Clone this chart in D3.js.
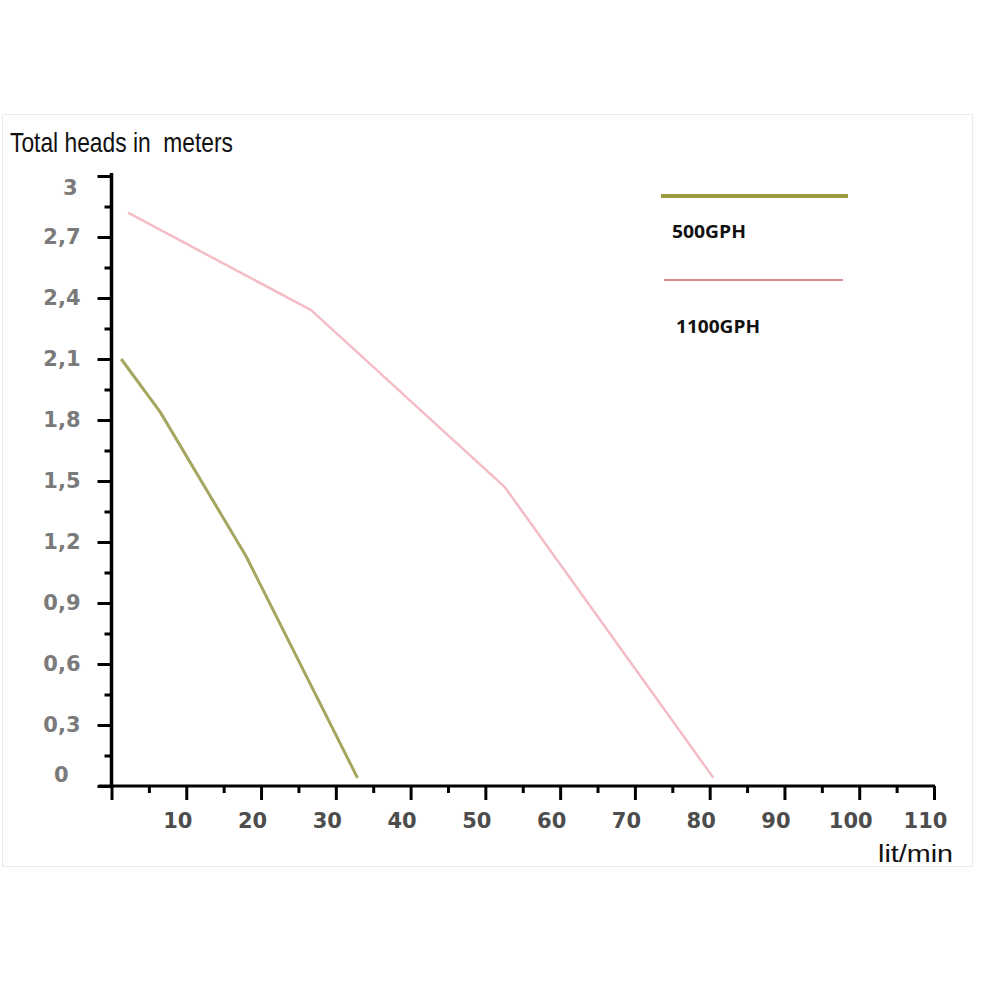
<!DOCTYPE html>
<html>
<head>
<meta charset="utf-8">
<script src="https://cdn.jsdelivr.net/npm/d3@7"></script>
<style>
  body { margin: 0; background: #fff; }
</style>
</head>
<body>
<svg id="chart" width="1000" height="1000"></svg>
<script>
// values
const flow500 = [1.3, 6.5, 18, 32.9];
const head500 = [2.1, 1.84, 1.13, 0.04];
const flow1100 = [2.2, 26.7, 52.6, 80.5];
const head1100 = [2.82, 2.34, 1.47, 0.04];
const seriesNames = ['500GPH', '1100GPH'];

const xMajor = [0, 10, 20, 30, 40, 50, 60, 70, 80, 90, 100, 110];
const xMinor = [5, 15, 25, 35, 45, 55, 65, 75, 85, 95, 105];
const yMajor = [0, 0.3, 0.6, 0.9, 1.2, 1.5, 1.8, 2.1, 2.4, 2.7, 3];
const yMinor = [0.15, 0.45, 0.75, 1.05, 1.35, 1.65, 1.95, 2.25, 2.55, 2.85];

const svg = d3.select('#chart');

const x = d3.scaleLinear().domain([0, 110]).range([111.5, 934]);
const y = d3.scaleLinear().domain([0, 3]).range([786, 176]);

const styles = {
  '500GPH': {color: '#a5a65f', width: 3, legendColor: '#9c9c42', legendWidth: 4},
  '1100GPH': {color: '#f4bcc5', width: 2.5, legendColor: '#d9606f', legendWidth: 1.5}
};

// faint frame around the picture
svg.append('rect')
    .attr('x', 2.5).attr('y', 114.5)
    .attr('width', 970).attr('height', 752)
    .attr('fill', 'none')
    .attr('stroke', '#ebebeb');

// axis lines
svg.append('line')
    .attr('x1', x(0)).attr('x2', x(0))
    .attr('y1', y(3) - 3).attr('y2', y(0) + 2)
    .attr('stroke', '#000').attr('stroke-width', 3.5);

svg.append('line')
    .attr('x1', x(0) - 13).attr('x2', x(110) + 1)
    .attr('y1', y(0)).attr('y2', y(0))
    .attr('stroke', '#000').attr('stroke-width', 3);

// y ticks
const yAxis = svg.append('g')
    .attr('transform', `translate(${x(0)},0)`)
    .call(d3.axisLeft(y).tickValues(yMajor).tickSize(14).tickSizeOuter(0)
      .tickFormat(d => String(d).replace('.', ',')));
yAxis.select('.domain').remove();
yAxis.selectAll('.tick line').attr('stroke', '#000').attr('stroke-width', 3);
yAxis.selectAll('.tick text')
    .attr('x', -31)
    .attr('fill', '#7a7a7a')
    .style('font-family', 'DejaVu Sans, sans-serif')
    .style('font-weight', 'bold')
    .style('font-size', '21px');
yAxis.selectAll('.tick text').filter(d => d === 3).attr('x', -34).attr('dy', '0.9em');
yAxis.selectAll('.tick text').filter(d => d === 0).attr('x', -43).attr('dy', '-0.2em');

const yMinorAxis = svg.append('g')
    .attr('transform', `translate(${x(0)},0)`)
    .call(d3.axisLeft(y).tickValues(yMinor).tickSize(7).tickFormat(''));
yMinorAxis.select('.domain').remove();
yMinorAxis.selectAll('.tick line').attr('stroke', '#000').attr('stroke-width', 3);

// x ticks
const xAxis = svg.append('g')
    .attr('transform', `translate(0,${y(0)})`)
    .call(d3.axisBottom(x).tickValues(xMajor).tickSize(14).tickSizeOuter(0)
      .tickFormat(d => d === 0 ? '' : d));
xAxis.select('.domain').remove();
xAxis.selectAll('.tick line').attr('stroke', '#000').attr('stroke-width', 3);
xAxis.selectAll('.tick text')
    .attr('y', 27)
    .attr('dx', -9)
    .attr('fill', '#4d4d4d')
    .style('font-family', 'DejaVu Sans, sans-serif')
    .style('font-weight', 'bold')
    .style('font-size', '21px');

const xMinorAxis = svg.append('g')
    .attr('transform', `translate(0,${y(0)})`)
    .call(d3.axisBottom(x).tickValues(xMinor).tickSize(7).tickFormat(''));
xMinorAxis.select('.domain').remove();
xMinorAxis.selectAll('.tick line').attr('stroke', '#000').attr('stroke-width', 3);

// titles
svg.append('text')
    .attr('x', 10).attr('y', 152)
    .attr('textLength', 223).attr('lengthAdjust', 'spacingAndGlyphs')
    .style('font-family', 'Liberation Sans Narrow, Liberation Sans, Arial, sans-serif')
    .style('font-size', '28px')
    .style('white-space', 'pre')
    .attr('fill', '#111')
    .text('Total heads in  meters');

svg.append('text')
    .attr('x', 878).attr('y', 862)
    .attr('textLength', 75).attr('lengthAdjust', 'spacingAndGlyphs')
    .style('font-family', 'Liberation Sans, Arial, sans-serif')
    .style('font-size', '23px')
    .attr('fill', '#111')
    .text('lit/min');

// curves
const series = [
  {name: seriesNames[0], points: flow500.map((f, i) => [f, head500[i]])},
  {name: seriesNames[1], points: flow1100.map((f, i) => [f, head1100[i]])}
];

const line = d3.line().x(d => x(d[0])).y(d => y(d[1]));

svg.selectAll('.curve')
  .data(series)
  .join('path')
    .attr('class', 'curve')
    .attr('d', d => line(d.points))
    .attr('fill', 'none')
    .attr('stroke', d => styles[d.name].color)
    .attr('stroke-width', d => styles[d.name].width)
    .attr('stroke-linejoin', 'round');

// legend
const legend = svg.selectAll('.legend')
  .data(series)
  .join('g')
    .attr('class', 'legend')
    .attr('transform', (d, i) => `translate(661,${196 + i * 84})`);

legend.append('line')
    .attr('x1', (d, i) => i * 3).attr('x2', (d, i) => i === 0 ? 187 : 182)
    .attr('stroke', d => styles[d.name].legendColor)
    .attr('stroke-width', d => styles[d.name].legendWidth);

legend.append('text')
    .attr('x', (d, i) => i === 0 ? 11 : 15)
    .attr('y', (d, i) => i === 0 ? 42 : 53)
    .attr('textLength', (d, i) => i === 0 ? 74 : 84)
    .attr('lengthAdjust', 'spacingAndGlyphs')
    .style('font-family', 'Open Sans, sans-serif')
    .style('font-weight', 'bold')
    .style('font-size', '18px')
    .attr('fill', '#111')
    .text(d => d.name);
</script>
</body>
</html>
